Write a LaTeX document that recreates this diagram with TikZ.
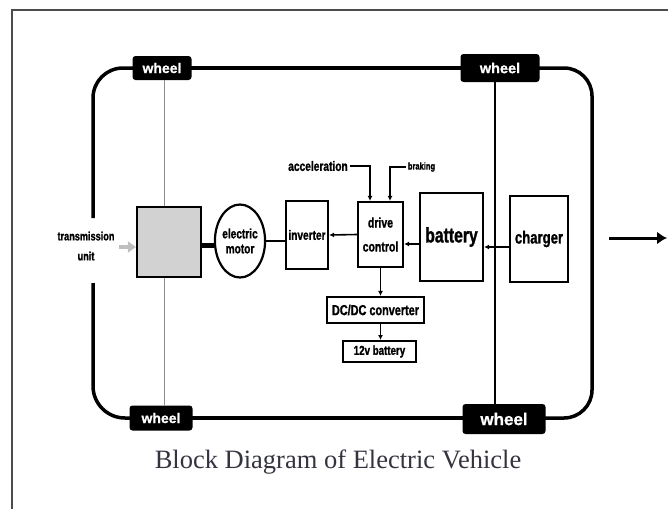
\documentclass[tikz,border=0pt]{standalone}
\usepackage{fontspec}
\setmainfont{Liberation Serif}
\newfontfamily\cnd[FakeStretch=0.75, FakeBold=1.2]{Liberation Sans}
\newfontfamily\whl[FakeBold=0.8]{Liberation Sans}
\usetikzlibrary{arrows.meta,backgrounds,calc,shapes.geometric}
\definecolor{capcol}{HTML}{33343F}
\newcommand\fsz[2]{\fontsize{#1}{#2}\selectfont}
\tikzset{
 box/.style={draw, line width=2.2pt, inner sep=0pt, align=center},
 wheelbox/.style={fill=black, rounded corners=3pt, text=white, inner sep=0pt},
 loopline/.style={line width=3.5pt},
 arr/.style={line width=1.6pt, -{Latex[length=5pt,width=5pt]}},
 lbl/.style={inner sep=0pt, align=center},
}
\begin{document}
\begin{tikzpicture}[x=1pt,y=-1pt]
\useasboundingbox (0,0) rectangle (668,509);
% outer frame
\draw[line width=2pt, black!70] (12,509) -- (12,10) -- (668,10);

% helper coordinates
\coordinate (gx) at (164,0);
\coordinate (vx) at (495,0);
\coordinate (ctl) at (93,68);
\coordinate (ctr) at (592,68);
\coordinate (cbr) at (592,418);
\coordinate (cbl) at (93,418);
\coordinate (lt) at (93,218);
\coordinate (lb) at (93,283);
\coordinate (ya) at (0,244);
\coordinate (yb) at (0,247);
\coordinate (yc) at (0,245);
\coordinate (yd) at (0,247);
\coordinate (ba) at (609,238);
\coordinate (bb) at (667,238);

% wheels
\node[wheelbox, minimum width=59, minimum height=24, font=\whl\bfseries\fsz{14}{14}] (wTL) at (162,68) {wheel};
\node[wheelbox, minimum width=79, minimum height=28, font=\whl\bfseries\fsz{14.5}{14.5}] (wTR) at (500,68) {wheel};
\node[wheelbox, minimum width=63, minimum height=25, font=\whl\bfseries\fsz{14}{14}] (wBL) at (161,418) {wheel};
\node[wheelbox, minimum width=83, minimum height=30, font=\whl\bfseries\fsz{17}{17}] (wBR) at (504,419) {wheel};

% blocks
\node[box, fill=gray!35, minimum width=64, minimum height=70] (gear) at (169,242) {};
\node[box, ellipse, minimum width=47, minimum height=73, font=\cnd\bfseries\fsz{13.5}{15}] (mot) at (240,241) {electric\\motor};
\node[box, minimum width=42, minimum height=68, font=\cnd\bfseries\fsz{13.5}{14}] (inv) at (307,235) {inverter};
\node[box, minimum width=45, minimum height=65, font=\cnd\bfseries\fsz{14}{24}] (dc) at (380.5,234.5) {drive\\control};
\node[box, minimum width=63, minimum height=88, font=\cnd\bfseries\fsz{21}{22}] (bat) at (451.5,237) {battery};
\node[box, minimum width=58, minimum height=86, font=\cnd\bfseries\fsz{17.5}{18}] (ch) at (539,239) {charger};
\node[box, minimum width=97, minimum height=26, font=\cnd\bfseries\fsz{14.5}{15}] (dcdc) at (375.5,310) {DC/DC converter};
\node[box, minimum width=73, minimum height=21, line width=2pt, font=\cnd\bfseries\fsz{13}{13}] (b12) at (379.5,351.5) {12v battery};

% labels
\node[lbl, font=\cnd\bfseries\fsz{12.2}{20}] (tu) at (86,246) {transmission\\unit};
\node[lbl, font=\cnd\bfseries\fsz{13.6}{13}] (acc) at (318,166) {acceleration};
\node[lbl, font=\cnd\bfseries\fsz{10}{10}] (brk) at (421.5,167) {braking};
\node[inner sep=0pt, anchor=base, font=\fsz{26.5}{26.5}, text=capcol] (cap) at (338,468) {Block Diagram of Electric Vehicle};

% loop through the wheels
\begin{scope}[on background layer]
\draw[loopline] (wTL.center) -- (wTR.center);
\draw[loopline, rounded corners=30] (wTL.center) -- (ctl) -- (lt);
\draw[loopline, rounded corners=28] (wTR.center) -- (ctr) -- (cbr) -- (wBR.center |- cbr);
\draw[loopline] (wBR.center |- cbr) -- (wBL.center);
\draw[loopline, rounded corners=32] (wBL.center) -- (cbl) -- (lb);
\end{scope}

% shafts
\draw[line width=1pt, black!45] (wTL.south -| gx) -- (gear.north -| gx);
\draw[line width=1pt, black!45] (gear.south -| gx) -- (wBL.north -| gx);
\draw[line width=2.5pt] (wTR.south -| vx) -- (wBR.north -| vx);

% connectors
\draw[line width=4pt, black!25, shorten <=4pt, -{Triangle[length=8pt,width=11pt]}] (tu.east |- yd) -- (gear.west |- yd);
\draw[line width=5pt] (gear.east |- yc) -- (mot.west |- yc);
\draw[line width=1.8pt] (mot.east) -- (mot.east -| inv.west);
\draw[arr] (dc.west) -- (inv.east);
\draw[arr] (bat.west |- ya) -- (dc.east |- ya);
\draw[arr] (ch.west |- yb) -- (bat.east |- yb);
\draw[arr, shorten <=2pt] (acc.east) -| ($(dc.north)+(-10.5,0)$);
\draw[arr, shorten <=2pt] (brk.west) -| ($(dc.north)+(9.5,0)$);
\draw[arr] (dc.south) -- (dc.south |- dcdc.north);
\draw[arr] (dc.south |- dcdc.south) -- (dc.south |- b12.north);
\draw[line width=3pt, -{Latex[length=10pt,width=13pt]}] (ba) -- (bb);
\end{tikzpicture}
\end{document}
